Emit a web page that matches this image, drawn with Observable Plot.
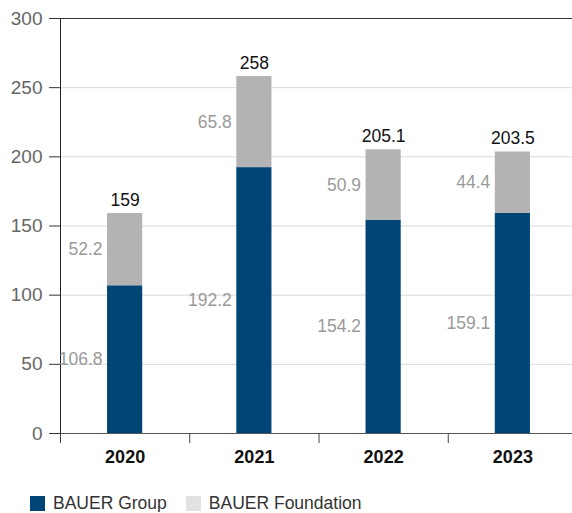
<!DOCTYPE html>
<html>
<head>
<meta charset="utf-8">
<script src="https://cdn.jsdelivr.net/npm/d3@7"></script>
<script src="https://cdn.jsdelivr.net/npm/@observablehq/plot@0.6"></script>
<style>
  body { margin: 0; background: #fff; font-family: "Liberation Sans", Arial, sans-serif; }
  #chart { width: 572px; }
  .legend { display: flex; align-items: center; height: 18px; margin-top: 16px; padding-left: 30px; font-size: 17.5px; color: #333; }
  .legend .item { display: flex; align-items: center; margin-right: 19px; }
  .legend .sw { width: 15px; height: 15px; margin-right: 8px; }
</style>
</head>
<body>
<div id="chart"></div>
<script>
const years = ["2020", "2021", "2022", "2023"];
const groupValues = [106.8, 192.2, 154.2, 159.1];
const foundationValues = [52.2, 65.8, 50.9, 44.4];
const totalValues = [159, 258, 205.1, 203.5];
const yTicks = [0, 50, 100, 150, 200, 250, 300];
const seriesNames = ["BAUER Group", "BAUER Foundation"];

const colors = { group: "#004576", foundation: "#b3b3b3", foundationLegend: "#e2e2e2" };

const rows = years.map((y, i) => ({
  pos: i + 1,
  year: y,
  group: groupValues[i],
  foundation: foundationValues[i],
  total: totalValues[i]
}));

const hw = 0.136; // half bar width in band units

const plot = Plot.plot({
  width: 572,
  height: 478,
  marginTop: 18,
  marginBottom: 45,
  marginLeft: 60,
  marginRight: -5,
  style: { fontFamily: "'Liberation Sans', Arial, sans-serif", background: "#fff" },
  x: { type: "linear", domain: [0.5, 4.5], label: null },
  y: { domain: [0, 300], label: null },
  marks: [
    Plot.ruleY(yTicks.filter(t => t > 0 && t < 300), { stroke: "#d9d9d9" }),
    Plot.rectY(rows, { x1: d => d.pos - hw, x2: d => d.pos + hw, y1: 0, y2: "group", fill: colors.group }),
    Plot.rectY(rows, { x1: d => d.pos - hw, x2: d => d.pos + hw, y1: "group", y2: "total", fill: colors.foundation }),
    Plot.ruleY([300], { stroke: "#333" }),
    Plot.ruleY([0], { stroke: "#555" }),
    Plot.ruleX([0.5], { stroke: "#222", insetBottom: -10 }),
    Plot.axisY({ ticks: yTicks, tickSize: 11, tickPadding: 7, fontSize: 19, fill: "#666", stroke: "#333", label: null }),
    Plot.axisX({ ticks: [0.5, 1.5, 2.5, 3.5], tickSize: 10, tickFormat: () => "", stroke: "#444", label: null }),
    Plot.axisX({ ticks: [1, 2, 3, 4], tickSize: 0, tickPadding: 17, tickFormat: i => years[i - 1], fontSize: 18, fontWeight: "bold", fill: "#111", label: null }),
    Plot.text(rows, { x: d => d.pos - hw, y: d => d.group / 2, text: d => String(d.group), textAnchor: "end", dx: -5, fontSize: 17.5, fill: "#9a9a9a" }),
    Plot.text(rows, { x: d => d.pos - hw, y: d => d.group + d.foundation / 2, text: d => String(d.foundation), textAnchor: "end", dx: -5, fontSize: 17.5, fill: "#9a9a9a" }),
    Plot.text(rows, { x: "pos", y: "total", text: d => String(d.total), lineAnchor: "bottom", dy: -8, fontSize: 17.5, fill: "#111" })
  ]
});

document.getElementById("chart").appendChild(plot);

const legend = document.createElement("div");
legend.className = "legend";
[[seriesNames[0], colors.group], [seriesNames[1], colors.foundationLegend]].forEach(([name, c]) => {
  const item = document.createElement("div");
  item.className = "item";
  const sw = document.createElement("span");
  sw.className = "sw";
  sw.style.background = c;
  const t = document.createElement("span");
  t.textContent = name;
  item.appendChild(sw);
  item.appendChild(t);
  legend.appendChild(item);
});
document.getElementById("chart").appendChild(legend);
</script>
</body>
</html>
